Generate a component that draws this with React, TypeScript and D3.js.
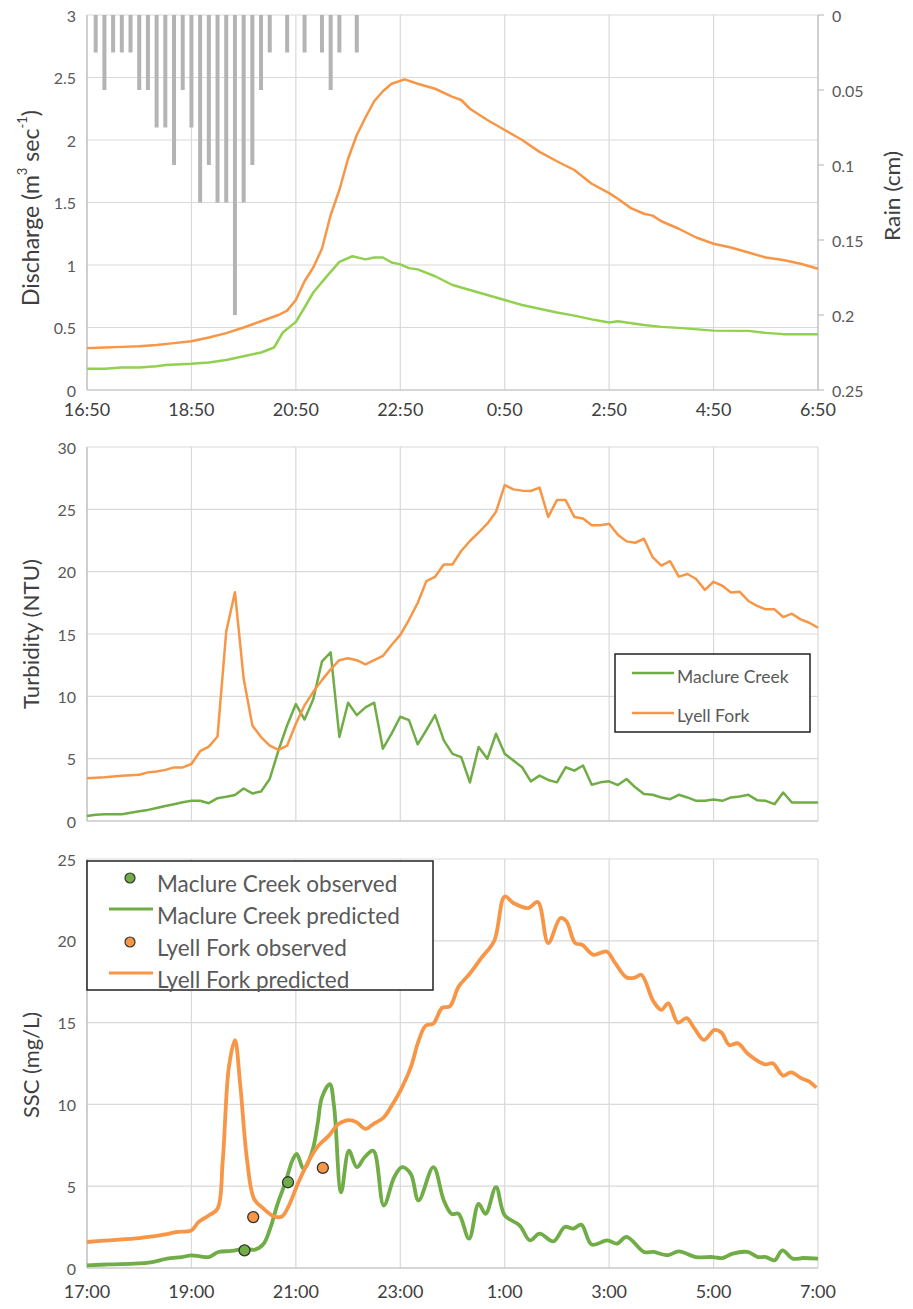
import React from "react";
import * as d3 from "d3";

// ---------- DATA ----------
// Rain (cm), 10-min totals, hanging from top (inverted right axis)
const rainTimes = ["17:00","17:10","17:20","17:30","17:40","17:50","18:00","18:10","18:20","18:30","18:40","18:50","19:00","19:10","19:20","19:30","19:40","19:50","20:00","20:10","20:20","20:40","21:00","21:20","21:30","21:40","22:00"];
const rainValues = [0.025,0.05,0.025,0.025,0.025,0.05,0.05,0.075,0.075,0.1,0.05,0.075,0.125,0.1,0.125,0.125,0.2,0.125,0.1,0.05,0.025,0.025,0.025,0.025,0.05,0.025,0.025];

// Discharge (m3/s)
const lyellQTimes = ["16:50","17:10","17:30","17:50","18:10","18:30","18:50","19:10","19:30","19:50","20:10","20:30","20:40","20:50","21:00","21:10","21:20","21:30","21:40","21:50","22:00","22:10","22:20","22:30","22:40","22:55","23:10","23:20","23:30","23:50","0:00","0:10","0:30","0:50","1:10","1:30","1:50","2:10","2:30","2:50","3:00","3:15","3:30","3:40","3:50","4:10","4:30","4:50","5:10","5:30","5:50","6:10","6:30","6:50"];
const lyellQ = [0.335,0.34,0.345,0.35,0.36,0.375,0.39,0.42,0.455,0.5,0.55,0.6,0.635,0.72,0.87,0.98,1.13,1.4,1.6,1.85,2.04,2.18,2.31,2.39,2.45,2.485,2.45,2.43,2.41,2.345,2.32,2.25,2.16,2.08,2.0,1.905,1.83,1.76,1.65,1.575,1.53,1.455,1.41,1.395,1.35,1.29,1.22,1.17,1.14,1.1,1.06,1.04,1.01,0.97];
const maclureQTimes = ["16:50","17:10","17:30","17:50","18:10","18:20","18:50","19:10","19:30","19:50","20:10","20:25","20:35","20:50","21:00","21:10","21:25","21:40","21:55","22:10","22:20","22:30","22:40","22:50","23:00","23:10","23:30","23:50","0:10","0:30","0:50","1:10","1:30","1:50","2:10","2:30","2:50","3:00","3:30","3:50","4:10","4:50","5:30","5:50","6:10","6:50"];
const maclureQ = [0.17,0.17,0.18,0.18,0.19,0.2,0.21,0.22,0.24,0.27,0.3,0.34,0.46,0.545,0.66,0.78,0.905,1.025,1.07,1.045,1.06,1.06,1.02,1.005,0.975,0.965,0.91,0.84,0.8,0.76,0.72,0.68,0.65,0.62,0.595,0.565,0.54,0.55,0.52,0.505,0.497,0.475,0.473,0.457,0.447,0.447];

// Turbidity (NTU), 10-min
const turbTimes = ["17:00","17:10","17:20","17:30","17:40","17:50","18:00","18:10","18:20","18:30","18:40","18:50","19:00","19:10","19:20","19:30","19:40","19:50","20:00","20:10","20:20","20:30","20:40","20:50","21:00","21:10","21:20","21:30","21:40","21:50","22:00","22:10","22:20","22:30","22:40","22:50","23:00","23:10","23:20","23:30","23:40","23:50","0:00","0:10","0:20","0:30","0:40","0:50","1:00","1:10","1:20","1:30","1:40","1:50","2:00","2:10","2:20","2:30","2:40","2:50","3:00","3:10","3:20","3:30","3:40","3:50","4:00","4:10","4:20","4:30","4:40","4:50","5:00","5:10","5:20","5:30","5:40","5:50","6:00","6:10","6:20","6:30","6:40","6:50","7:00"];
const lyellTurb = [3.42,3.46,3.5,3.56,3.63,3.67,3.71,3.9,3.97,4.1,4.3,4.3,4.57,5.6,5.97,6.78,15.2,18.35,11.43,7.67,6.73,6.05,5.7,6.05,7.8,9.28,10.36,11.3,12.16,12.9,13.05,12.9,12.56,12.9,13.24,14.12,14.93,16.14,17.49,19.24,19.59,20.58,20.58,21.66,22.46,23.14,23.85,24.8,26.95,26.6,26.5,26.47,26.74,24.39,25.74,25.74,24.39,24.26,23.72,23.72,23.85,22.96,22.43,22.32,22.64,21.16,20.49,20.84,19.6,19.81,19.41,18.54,19.19,18.87,18.33,18.38,17.65,17.25,16.98,16.98,16.36,16.63,16.17,15.9,15.5];
const maclureTurb = [0.4,0.5,0.54,0.54,0.54,0.67,0.78,0.89,1.05,1.21,1.35,1.5,1.62,1.62,1.43,1.83,1.94,2.08,2.61,2.21,2.37,3.37,5.66,7.68,9.38,8.14,9.76,12.8,13.53,6.74,9.49,8.49,9.11,9.49,5.8,7.01,8.36,8.09,6.15,7.3,8.49,6.47,5.39,5.12,3.1,5.93,4.99,7.0,5.39,4.85,4.31,3.18,3.64,3.29,3.1,4.31,4.04,4.45,2.91,3.1,3.18,2.88,3.37,2.7,2.16,2.1,1.89,1.75,2.1,1.89,1.62,1.62,1.72,1.62,1.89,1.97,2.1,1.67,1.62,1.35,2.29,1.48,1.48,1.48,1.48];

// SSC (mg/L) predicted
const lyellSscTimes = ["17:00","17:25","18:00","18:15","18:30","18:42","19:00","19:08","19:20","19:30","19:36","19:43","19:50","19:56","20:04","20:12","20:23","20:35","20:44","20:52","21:03","21:15","21:26","21:38","21:49","22:01","22:10","22:20","22:29","22:41","22:51","23:00","23:12","23:21","23:29","23:38","23:48","23:57","0:07","0:20","0:33","0:48","1:00","1:10","1:27","1:38","1:50","2:04","2:11","2:21","2:29","2:42","2:57","3:07","3:20","3:30","3:37","3:51","4:00","4:08","4:19","4:29","4:38","4:49","5:01","5:09","5:18","5:28","5:40","5:59","6:08","6:20","6:29","6:41","6:50","6:58"];
const lyellSsc = [1.59,1.69,1.83,1.93,2.05,2.2,2.3,2.8,3.21,3.62,6.57,12.26,13.92,11.24,6.57,4.23,3.62,3.15,3.15,3.82,5.24,6.57,7.48,8.09,8.8,9.04,8.9,8.5,8.8,9.2,10.0,10.83,12.26,13.88,14.8,14.94,15.9,16.0,17.2,18.0,18.94,20.0,22.71,22.31,22.0,22.37,19.86,21.39,21.18,19.86,19.76,19.14,19.35,18.63,17.76,17.76,17.92,16.29,15.78,16.18,15.0,15.27,14.65,13.94,14.55,14.39,13.63,13.73,13.06,12.45,12.51,11.76,11.96,11.59,11.39,11.02];
const maclureSscTimes = ["17:00","17:25","18:11","18:32","18:49","19:00","19:10","19:20","19:31","19:46","20:02","20:13","20:23","20:31","20:39","20:48","20:56","21:01","21:09","21:19","21:25","21:30","21:39","21:44","21:52","22:01","22:10","22:19","22:29","22:41","22:53","23:02","23:12","23:21","23:38","23:50","23:59","0:07","0:19","0:30","0:38","0:50","1:00","1:17","1:29","1:40","1:56","2:09","2:19","2:28","2:40","2:58","3:09","3:20","3:40","3:51","4:07","4:20","4:40","4:59","5:10","5:22","5:39","5:51","6:00","6:10","6:19","6:31","6:43","7:00"];
const maclureSsc = [0.16,0.22,0.33,0.57,0.67,0.77,0.71,0.67,0.98,1.04,1.18,1.12,1.48,2.5,3.92,5.24,6.57,6.97,6.06,7.17,8.8,10.43,11.24,9.82,4.63,7.17,6.16,6.77,7.17,3.82,5.55,6.16,5.75,4.13,6.16,4.13,3.31,3.31,1.79,3.92,3.31,4.94,3.22,2.61,1.69,2.1,1.63,2.51,2.41,2.65,1.43,1.69,1.49,1.9,0.98,0.98,0.78,1.02,0.67,0.67,0.61,0.88,0.98,0.67,0.67,0.47,1.08,0.57,0.61,0.57];

// SSC observed
const maclureObsTimes = ["20:01","20:51"];
const maclureObs = [1.08,5.24];
const lyellObsTimes = ["20:11","21:31"];
const lyellObs = [3.11,6.12];

// Ticks
const topXTicks = ["16:50","18:50","20:50","22:50","0:50","2:50","4:50","6:50"];
const bottomXTicks = ["17:00","19:00","21:00","23:00","1:00","3:00","5:00","7:00"];
const qTicks = [0,0.5,1,1.5,2,2.5,3];
const rainTicks = [0,0.05,0.1,0.15,0.2,0.25];
const turbTicks = [0,5,10,15,20,25,30];
const sscTicks = [0,5,10,15,20,25];

// ---------- HELPERS ----------
const toDate = (s: string) => {
  const [h, m] = s.split(":").map(Number);
  const day = h >= 12 ? 1 : 2;
  return new Date(2000, 0, day, h, m);
};
const zip = (ts: string[], vs: number[]) => ts.map((t, i) => ({ t: toDate(t), v: vs[i] }));

const ORANGE = "#f79646";
const GREEN_LIGHT = "#92d050";
const GREEN = "#70ad47";
const GRID = "#d9d9d9";
const AXIS = "#bfbfbf";
const TXT = "#595959";
const TITLE = "#404040";
const FONT = "Lato, 'Open Sans', sans-serif";

const L = 87, R = 818;

export default function App() {
  const xTop = d3.scaleTime().domain([toDate("16:50"), toDate("6:50")]).range([L, R]);
  const xMB = d3.scaleTime().domain([toDate("17:00"), toDate("7:00")]).range([L, R]);
  const yQ = d3.scaleLinear().domain([0, 3]).range([390, 15]);
  const yRain = d3.scaleLinear().domain([0, 0.25]).range([15, 390]);
  const yT = d3.scaleLinear().domain([0, 30]).range([821, 447]);
  const yS = d3.scaleLinear().domain([0, 25]).range([1268, 859]);

  const lineTop = d3.line<{ t: Date; v: number }>().x(d => xTop(d.t)).y(d => yQ(d.v));
  const lineT = d3.line<{ t: Date; v: number }>().x(d => xMB(d.t)).y(d => yT(d.v));
  const lineS = d3.line<{ t: Date; v: number }>().x(d => xMB(d.t)).y(d => yS(d.v)).curve(d3.curveCatmullRom.alpha(0.5));

  const gridPanel = (y: d3.ScaleLinear<number, number>, ticks: number[], x: d3.ScaleTime<number, number>, xt: string[]) => (
    <g>
      {ticks.map(v => (
        <line key={"h" + v} x1={L} x2={R} y1={y(v)} y2={y(v)} stroke={GRID} strokeWidth={1.2} />
      ))}
      {xt.map(t => (
        <line key={"v" + t} x1={x(toDate(t))} x2={x(toDate(t))} y1={y(ticks[ticks.length - 1])} y2={y(0)} stroke={GRID} strokeWidth={1.2} />
      ))}
      <line x1={L} x2={L} y1={y(ticks[ticks.length - 1])} y2={y(0)} stroke={AXIS} strokeWidth={1.2} />
      <line x1={L} x2={R} y1={y(0)} y2={y(0)} stroke={AXIS} strokeWidth={1.2} />
      {ticks.map(v => (
        <text key={"l" + v} x={76} y={y(v)} textAnchor="end" dominantBaseline="central" fontSize={16} fill={TXT} fontFamily={FONT}>{String(v)}</text>
      ))}
    </g>
  );

  const title = (cx: number, cy: number, len: number, content: React.ReactNode) => (
    <text transform={`translate(${cx},${cy}) rotate(-90)`} textAnchor="middle" dominantBaseline="central" fontSize={22} fill={TITLE} fontFamily={FONT} textLength={len} lengthAdjust="spacingAndGlyphs">{content}</text>
  );

  return (
    <svg width={913} height={1309} style={{ position: "absolute", left: 0, top: 0, background: "#fff" }}>
      {/* ---------- TOP PANEL ---------- */}
      {gridPanel(yQ, qTicks, xTop, topXTicks)}
      <line x1={R} x2={R} y1={15} y2={390} stroke={AXIS} strokeWidth={1.2} />
      {rainTicks.map(v => (
        <g key={"r" + v}>
          <line x1={R} x2={R + 6} y1={yRain(v)} y2={yRain(v)} stroke={AXIS} strokeWidth={1.2} />
          <text x={832} y={yRain(v)} dominantBaseline="central" fontSize={16} fill={TXT} fontFamily={FONT}>{String(v)}</text>
        </g>
      ))}
      {zip(rainTimes, rainValues).map((d, i) => (
        <rect key={"rb" + i} x={xTop(d.t) - 2} y={yRain(0)} width={4} height={yRain(d.v) - yRain(0)} fill="#b4b4b4" />
      ))}
      <path d={lineTop(zip(maclureQTimes, maclureQ)) || ""} fill="none" stroke={GREEN_LIGHT} strokeWidth={2.5} strokeLinejoin="round" />
      <path d={lineTop(zip(lyellQTimes, lyellQ)) || ""} fill="none" stroke={ORANGE} strokeWidth={2.5} strokeLinejoin="round" />
      {topXTicks.map(t => (
        <text key={"tx" + t} x={xTop(toDate(t))} y={409} textAnchor="middle" dominantBaseline="central" fontSize={18} fill={TITLE} fontFamily={FONT}>{t}</text>
      ))}
      <text transform="translate(30,208) rotate(-90)" textAnchor="middle" dominantBaseline="central" fontSize={23} fill={TITLE} fontFamily={FONT}>
        Discharge (m<tspan fontSize={13} dy={-8}>3</tspan><tspan dy={8}> sec</tspan><tspan fontSize={13} dy={-8}>-1</tspan><tspan dy={8}>)</tspan>
      </text>
      {title(891, 196, 90, "Rain (cm)")}

      {/* ---------- MIDDLE PANEL ---------- */}
      {gridPanel(yT, turbTicks, xMB, bottomXTicks)}
      <path d={lineT(zip(turbTimes, maclureTurb)) || ""} fill="none" stroke={GREEN} strokeWidth={2.5} strokeLinejoin="round" />
      <path d={lineT(zip(turbTimes, lyellTurb)) || ""} fill="none" stroke={ORANGE} strokeWidth={2.5} strokeLinejoin="round" />
      {title(30, 634, 150, "Turbidity (NTU)")}
      <g>
        <rect x={615} y={654} width={195} height={78} fill="#fff" stroke="#222" strokeWidth={1.5} />
        <line x1={632} x2={674} y1={673} y2={673} stroke={GREEN} strokeWidth={2.5} />
        <text x={677} y={676} dominantBaseline="central" fontSize={17.5} fill={TXT} fontFamily={FONT}>Maclure Creek</text>
        <line x1={632} x2={674} y1={713} y2={713} stroke={ORANGE} strokeWidth={2.5} />
        <text x={677} y={715} dominantBaseline="central" fontSize={17.5} fill={TXT} fontFamily={FONT}>Lyell Fork</text>
      </g>

      {/* ---------- BOTTOM PANEL ---------- */}
      {gridPanel(yS, sscTicks, xMB, bottomXTicks)}
      <path d={lineS(zip(maclureSscTimes, maclureSsc)) || ""} fill="none" stroke={GREEN} strokeWidth={3.8} strokeLinejoin="round" />
      <path d={lineS(zip(lyellSscTimes, lyellSsc)) || ""} fill="none" stroke={ORANGE} strokeWidth={3.8} strokeLinejoin="round" />
      {zip(maclureObsTimes, maclureObs).map((d, i) => (
        <circle key={"mo" + i} cx={xMB(d.t)} cy={yS(d.v)} r={5.5} fill={GREEN} stroke="#333" strokeWidth={1.3} />
      ))}
      {zip(lyellObsTimes, lyellObs).map((d, i) => (
        <circle key={"lo" + i} cx={xMB(d.t)} cy={yS(d.v)} r={5.5} fill={ORANGE} stroke="#333" strokeWidth={1.3} />
      ))}
      {bottomXTicks.map(t => (
        <text key={"bx" + t} x={xMB(toDate(t))} y={1291} textAnchor="middle" dominantBaseline="central" fontSize={18} fill={TITLE} fontFamily={FONT}>{t}</text>
      ))}
      {title(30, 1065, 106, "SSC (mg/L)")}
      <g>
        <rect x={87} y={861} width={346} height={129} fill="#fff" stroke="#222" strokeWidth={1.5} />
        <circle cx={130} cy={878} r={5} fill={GREEN} stroke="#333" strokeWidth={1.2} />
        <text x={157} y={883} dominantBaseline="central" fontSize={22.5} fill={TXT} fontFamily={FONT}>Maclure Creek observed</text>
        <line x1={109} x2={153} y1={909} y2={909} stroke={GREEN} strokeWidth={3} />
        <text x={157} y={915} dominantBaseline="central" fontSize={22.5} fill={TXT} fontFamily={FONT}>Maclure Creek predicted</text>
        <circle cx={130} cy={942} r={5} fill={ORANGE} stroke="#333" strokeWidth={1.2} />
        <text x={157} y={947} dominantBaseline="central" fontSize={22.5} fill={TXT} fontFamily={FONT}>Lyell Fork observed</text>
        <line x1={109} x2={153} y1={973} y2={973} stroke={ORANGE} strokeWidth={3} />
        <text x={157} y={979} dominantBaseline="central" fontSize={22.5} fill={TXT} fontFamily={FONT}>Lyell Fork predicted</text>
      </g>
    </svg>
  );
}
